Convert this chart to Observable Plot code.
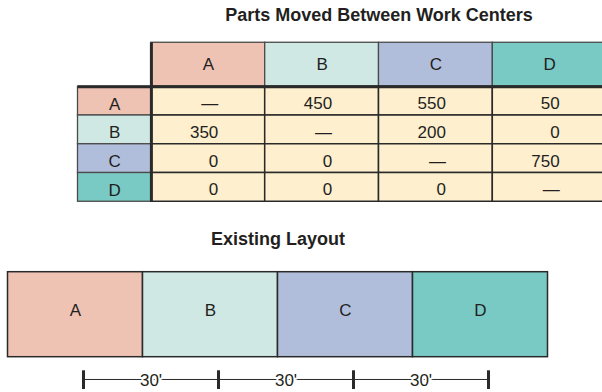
<!DOCTYPE html>
<html>
<head>
<meta charset="utf-8">
<script src="https://cdn.jsdelivr.net/npm/d3@7"></script>
<script src="https://cdn.jsdelivr.net/npm/@observablehq/plot@0.6"></script>
<style>
  html, body { margin: 0; padding: 0; background: #fff; }
  #chart { width: 602px; height: 392px; overflow: hidden; }
  #chart svg { display: block; }
</style>
</head>
<body>
<div id="chart"></div>
<script>
// ---- data ----
const centers = ["A", "B", "C", "D"];
const flowA = [null, 450, 550, 50];
const flowB = [350, null, 200, 0];
const flowC = [0, 0, null, 750];
const flowD = [0, 0, 0, null];
const centerColors = ["#EEC3B4", "#CFE8E4", "#B1BEDB", "#79CAC4"];
const cellColor = "#FEEFCF";
const tableTitle = "Parts Moved Between Work Centers";
const layoutTitle = "Existing Layout";
const layoutOrder = ["A", "B", "C", "D"];
const distances = ["30'", "30'", "30'"];

// ---- derived tables ----
const flows = [flowA, flowB, flowC, flowD];
const cells = flows.flatMap((row, i) => row.map((v, j) => ({
  row: i, col: j, label: v == null ? "\u2014" : String(v)
})));
const idx = centers.map((c, i) => ({name: c, i, color: centerColors[i]}));
const layout = layoutOrder.map((c, i) => ({name: c, i, color: centerColors[centers.indexOf(c)]}));

const font = "Liberation Sans, Arial, Helvetica, sans-serif";
const ink = "#231F20";
const line = "#2A2A2A";
const labelCol = -0.645;

// ---- top: from-to matrix ----
const matrixPlot = Plot.plot({
  width: 602, height: 212, margin: 0,
  style: {fontFamily: font, background: "#fff"},
  x: {type: "linear", domain: [labelCol, 4], range: [77.5, 77.5 + 4.645 * 113.8], axis: null},
  y: {type: "linear", domain: [-3, 4], range: [0, 7 * 28.75], axis: null},
  marks: [
    Plot.rect(idx, {x1: d => d.i, x2: d => d.i + 1, y1: -1.53, y2: 0, fill: d => d.color, stroke: "#4a4a4a", strokeWidth: 1.3}),
    Plot.rect(idx, {x1: labelCol, x2: 0, y1: d => d.i, y2: d => d.i + 1, fill: d => d.color, stroke: "#4a4a4a", strokeWidth: 1.3}),
    Plot.rect(cells, {x1: d => d.col, x2: d => d.col + 1, y1: d => d.row, y2: d => d.row + 1, fill: cellColor, stroke: line, strokeWidth: 1.5}),
    Plot.ruleX([0], {y1: -1.53, y2: 4, stroke: line, strokeWidth: 3}),
    Plot.ruleY([0], {x1: labelCol, x2: 4, stroke: line, strokeWidth: 3}),
    Plot.text(idx, {x: d => d.i + 0.5, y: -0.765, text: "name", fontSize: 17, fill: ink, fontFamily: font}),
    Plot.text(idx, {x: labelCol / 2, y: d => d.i + 0.5, dy: 3, text: "name", fontSize: 17, fill: ink, fontFamily: font}),
    Plot.text(cells, {x: d => d.col + 0.5, y: d => d.row + 0.5, dy: 2.5, dx: 10, textAnchor: "end", text: "label", fontSize: 17, fill: ink, fontFamily: font}),
    Plot.text([tableTitle], {x: 2, y: -2.5, text: d => d, fontSize: 18, fontWeight: "bold", fill: ink, fontFamily: font})
  ]
});

// ---- bottom: existing layout ----
const layoutPlot = Plot.plot({
  width: 602, height: 180, margin: 0,
  style: {fontFamily: font, background: "#fff"},
  x: {type: "linear", domain: [0, 4], range: [7.5, 547.5], axis: null},
  y: {type: "linear", domain: [0, 1], range: [59.7, 144.7], axis: null},
  marks: [
    Plot.rect(layout, {x1: d => d.i, x2: d => d.i + 1, y1: 0, y2: 1, fill: d => d.color, stroke: line, strokeWidth: 1.5}),
    Plot.text(layout, {x: d => d.i + 0.5, y: 0.5, dy: -4, text: "name", fontSize: 17, fill: ink, fontFamily: font}),
    Plot.text([layoutTitle], {x: 2, y: -0.385, text: d => d, fontSize: 18, fontWeight: "bold", fill: ink, fontFamily: font}),
    Plot.ruleY([1.262], {x1: 0.5, x2: layout.length - 0.5, dx: 8, stroke: line, strokeWidth: 1}),
    Plot.ruleX(layout, {x: d => d.i + 0.5, y1: 1.16, y2: 1.38, dx: 8, stroke: line, strokeWidth: 3}),
    Plot.text(distances, {x: (d, i) => i + 1, y: 1.262, dx: 8, dy: 1, text: d => d, fontSize: 17, fill: ink, fontFamily: font, stroke: "#fff", strokeWidth: 4, paintOrder: "stroke"})
  ]
});

const chart = document.getElementById("chart");
chart.appendChild(matrixPlot);
chart.appendChild(layoutPlot);
</script>
</body>
</html>
